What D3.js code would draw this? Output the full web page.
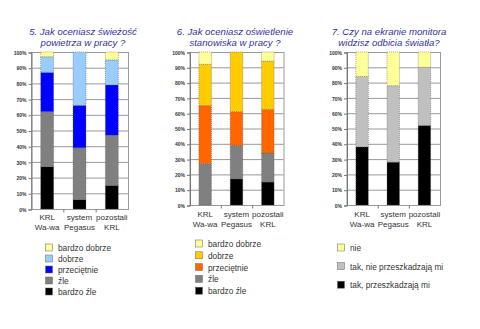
<!DOCTYPE html>
<html><head><meta charset="utf-8">
<script src="https://cdn.jsdelivr.net/npm/d3@7/dist/d3.min.js"></script>
<style>body{margin:0;background:#fff}svg{display:block;font-family:Arial,"Liberation Sans",sans-serif}</style>
</head><body><svg id="c" width="480" height="329"></svg>
<script>
// ---- data ----
const categories = [["KRL","Wa-wa"],["system","Pegasus"],["pozostali","KRL"]];
const tickLabels = ["0%","10%","20%","30%","40%","50%","60%","70%","80%","90%","100%"];

const title1 = ["5. Jak oceniasz świeżość","powietrza w pracy ?"];
const series1 = ["bardzo źle","źle","przeciętnie","dobrze","bardzo dobrze"];
const values1 = [ // per category, bottom -> top
  [27, 35, 25, 10, 3],
  [6, 33, 27, 34, 0],
  [15, 32, 32, 16, 5]
];

const title2 = ["6. Jak oceniasz oświetlenie","stanowiska w pracy ?"];
const series2 = ["bardzo źle","źle","przeciętnie","dobrze","bardzo dobrze"];
const values2 = [
  [0, 27, 38, 27, 8],
  [17, 22, 22, 39, 0],
  [15, 19, 28.5, 31.5, 6]
];

const title3 = ["7. Czy na ekranie monitora","widzisz odbicia światła?"];
const series3 = ["tak, przeszkadzają mi","tak, nie przeszkadzają  mi","nie"];
const values3 = [
  [38, 46, 16],
  [28, 50, 22],
  [52, 38, 10]
];

// ---- styles / layout ----
const colors1 = ["#000000","#808080","#0000FF","#99CCFF","#FFFF99"];
const colors2 = ["#000000","#808080","#FF6600","#FFCC00","#FFFF99"];
const colors3 = ["#000000","#C0C0C0","#FFFF99"];

const panels = [
  {title:title1, series:series1, values:values1, colors:colors1,
   x0:31, x1:128, yT:52, yB:209, tc:83, labY:220, legX:45, legY:248, legDy:11},
  {title:title2, series:series2, values:values2, colors:colors2,
   x0:189.5, x1:283.5, yT:52, yB:205, tc:235, labY:217, legX:195, legY:244, legDy:11.8},
  {title:title3, series:series3, values:values3, colors:colors3,
   x0:346.5, x1:440, yT:52, yB:205, tc:389, labY:217, legX:337, legY:248, legDy:18.6}
];

const svg = d3.select("#c");

panels.forEach(p => {
  const g = svg.append("g");
  const x = d3.scaleBand().domain(d3.range(categories.length)).range([p.x0, p.x1]).paddingInner(0.6).paddingOuter(0.3);
  const xb = d3.scaleBand().domain(d3.range(categories.length)).range([p.x0, p.x1]);
  const y = d3.scaleLinear().domain([0, 100]).range([p.yB, p.yT]);

  // title
  g.append("text").attr("x", p.tc).attr("y", 34.5)
    .attr("text-anchor","middle").attr("font-size", 9.6).attr("font-style","italic")
    .attr("fill","#333399")
    .selectAll("tspan").data(p.title).join("tspan")
    .attr("x", p.tc).attr("dy",(d,i)=> i ? 11.5 : 0).text(d=>d);

  // gridlines
  const ticks = d3.range(0, 101, 10);
  g.append("g").selectAll("line").data(ticks).join("line")
    .attr("x1", p.x0).attr("x2", p.x1)
    .attr("y1", d=>y(d)+0.5).attr("y2", d=>y(d)+0.5)
    .attr("stroke","#9a9a9a").attr("stroke-width",1);
  // plot frame
  g.append("rect").attr("x", p.x0+0.5).attr("y", p.yT+0.5)
    .attr("width", p.x1-p.x0).attr("height", p.yB-p.yT)
    .attr("fill","none").attr("stroke","#9a9a9a");

  // y axis
  const ya = d3.axisLeft(y).tickValues(ticks).tickFormat((d,i)=>tickLabels[i]).tickSize(3).tickPadding(2);
  const yg = g.append("g").attr("transform",`translate(${p.x0+0.5},0.5)`).call(ya);
  yg.select(".domain").attr("stroke","#777");
  yg.selectAll("line").attr("stroke","#777");
  yg.selectAll("text").attr("font-size",5).attr("font-weight","bold").attr("fill","#333").attr("font-family","Arial, sans-serif");

  // x axis ticks at band boundaries
  g.append("g").selectAll("line").data(d3.range(1, categories.length)).join("line")
    .attr("x1", d=>xb(d)+0.5).attr("x2", d=>xb(d)+0.5)
    .attr("y1", p.yB+0.5).attr("y2", p.yB+3.5).attr("stroke","#777");

  // stacked bars
  const stack = d3.stack().keys(d3.range(p.series.length)).value((d,k)=>d[k]);
  const layers = stack(p.values);
  g.append("g").selectAll("g").data(layers).join("g")
    .attr("fill",(d,i)=>p.colors[i])
    .selectAll("rect").data(d=>d.map((v,j)=>({v,j}))).join("rect")
    .attr("x", d=>x(d.j)).attr("width", x.bandwidth())
    .attr("y", d=>y(d.v[1])).attr("height", d=>Math.max(0, y(d.v[0])-y(d.v[1])))
    .attr("stroke","#555").attr("stroke-width",0.5).attr("stroke-dasharray","1,1");

  // category labels
  const lab = g.append("g").selectAll("text").data(categories).join("text")
    .attr("text-anchor","middle").attr("font-size",8).attr("fill","#333")
    .attr("y", p.labY);
  lab.selectAll("tspan").data((d,i)=>d.map(s=>({s,i}))).join("tspan")
    .attr("x", d=>xb(d.i)+xb.bandwidth()/2).attr("dy",(d,k)=>k?10:0).text(d=>d.s);

  // legend (top -> bottom reversed series)
  const legItems = d3.range(p.series.length).reverse();
  const lg = g.append("g").selectAll("g").data(legItems).join("g")
    .attr("transform",(d,i)=>`translate(${p.legX},${p.legY + i*p.legDy})`);
  lg.append("rect").attr("x",0.5).attr("y",-4).attr("width",7).attr("height",7)
    .attr("fill",d=>p.colors[d]).attr("stroke","#666").attr("stroke-width",0.5);
  lg.append("text").attr("x",13).attr("y",3).attr("font-size",8.3).attr("fill","#333")
    .text(d=>p.series[d]);
});
</script></body></html>
